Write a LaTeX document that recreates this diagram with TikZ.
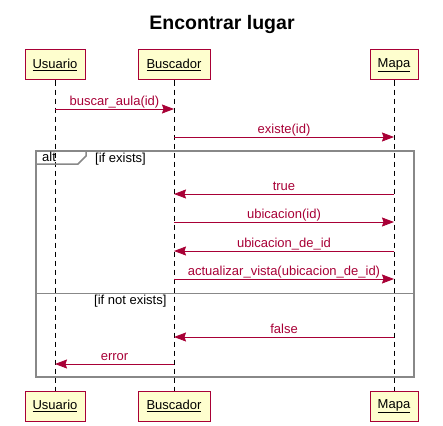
\documentclass[tikz,border=0pt]{standalone}
\usepackage{fontspec}
\setmainfont{Liberation Sans}
\usetikzlibrary{arrows.meta}
\definecolor{umlred}{HTML}{A80036}
\definecolor{umlfill}{HTML}{FEFECE}
\definecolor{framegray}{HTML}{888888}
\tikzset{
  x=1pt, y=-1pt,
  participant/.style={draw=umlred, fill=umlfill, line width=1pt, minimum height=30pt, inner sep=0pt, font=\fontsize{13}{15}\selectfont},
  lifeline/.style={black, line width=0.8pt, dash pattern=on 5pt off 4pt},
  msg/.style={umlred, line width=0.9pt, -{Stealth[length=12pt,width=9pt,inset=1.5pt]}},
  lbl/.style={font=\fontsize{13}{15}\selectfont, anchor=base, inner sep=0pt, yshift=3.5pt},
  framelbl/.style={font=\fontsize{13}{15}\selectfont, anchor=base west, inner sep=0pt}
}
\begin{document}
\begin{tikzpicture}
\useasboundingbox (0,0) rectangle (443,425);
\node[font=\bfseries\fontsize{19.5}{22}\selectfont, anchor=base] (title) at (222,30) {Encontrar lugar};
% participants
\node[participant, minimum width=60pt] (ut) at (55,65) {\underline{Usuario}};
\node[participant, minimum width=72pt] (bt) at (174,65) {\underline{Buscador}};
\node[participant, minimum width=48pt] (mt) at (394,65) {\underline{Mapa}};
\node[participant, minimum width=60pt] (ub) at (55,406) {\underline{Usuario}};
\node[participant, minimum width=72pt] (bb) at (174,406) {\underline{Buscador}};
\node[participant, minimum width=48pt] (mb) at (394,406) {\underline{Mapa}};
\draw[lifeline] (ut.south) -- (ub.north);
\draw[lifeline] (bt.south) -- (bb.north);
\draw[lifeline] (mt.south) -- (mb.north);
% coordinates on lifelines
\foreach \n/\y in {1/109,2/137,3/194,4/222,5/251,6/279,7/337,8/364}{
  \coordinate (u\n) at (55,\y);
  \coordinate (b\n) at (174,\y);
  \coordinate (m\n) at (394,\y);
}
% alt frame
\draw[framegray, line width=1.5pt] (36,151) rectangle (414,377);
\draw[framegray, line width=1.5pt] (36,164) -- (78,164) -- (86,156) -- (86,151);
\draw[framegray, line width=0.8pt] (36,293) -- (414,293);
\node[framelbl] (alt) at (42,161) {alt};
\node[framelbl] (c1) at (95,162) {[if exists]};
\node[framelbl] (c2) at (94,304) {[if not exists]};
% messages
\draw[msg] (u1) -- node[lbl] (l1) {buscar\_aula(id)} (b1);
\draw[msg] (b2) -- node[lbl] (l2) {existe(id)} (m2);
\draw[msg] (m3) -- node[lbl] (l3) {true} (b3);
\draw[msg] (b4) -- node[lbl] (l4) {ubicacion(id)} (m4);
\draw[msg] (m5) -- node[lbl] (l5) {ubicacion\_de\_id} (b5);
\draw[msg] (b6) -- node[lbl] (l6) {actualizar\_vista(ubicacion\_de\_id)} (m6);
\draw[msg] (m7) -- node[lbl] (l7) {false} (b7);
\draw[msg] (b8) -- node[lbl] (l8) {error} (u8);
\end{tikzpicture}
\end{document}
